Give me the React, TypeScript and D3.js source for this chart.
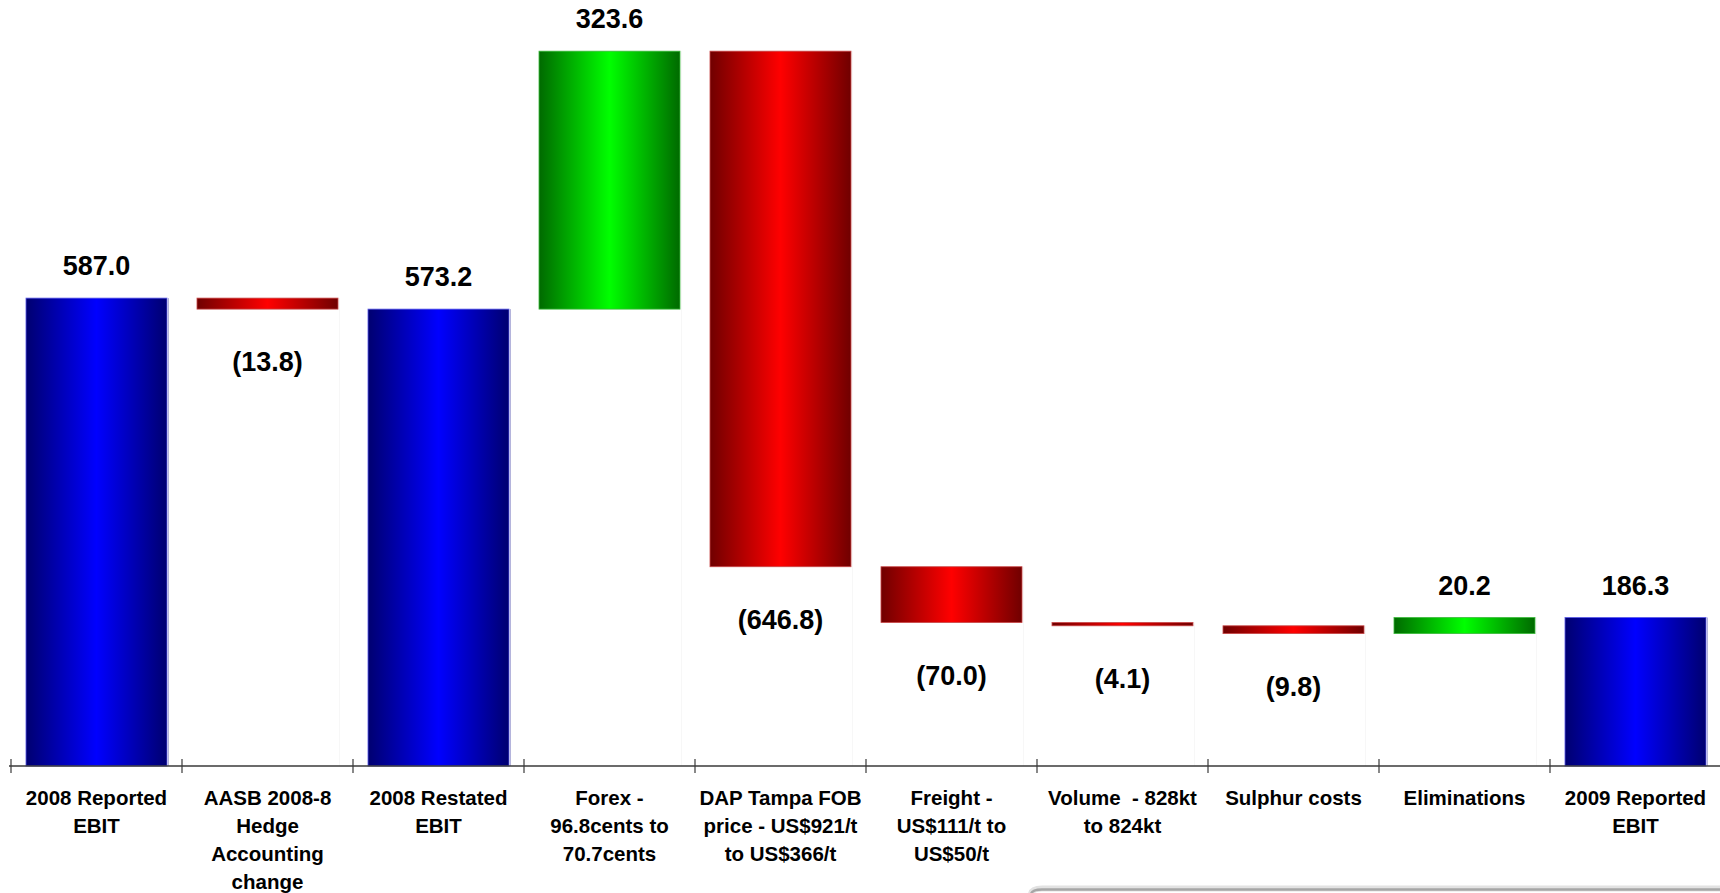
import React from "react";
import * as d3 from "d3";

// EBIT bridge 2008 -> 2009 (A$m)
const categories: string[][] = [
  ["2008 Reported", "EBIT"],
  ["AASB 2008-8", "Hedge", "Accounting", "change"],
  ["2008 Restated", "EBIT"],
  ["Forex -", "96.8cents to", "70.7cents"],
  ["DAP Tampa FOB", "price - US$921/t", "to US$366/t"],
  ["Freight -", "US$111/t to", "US$50/t"],
  ["Volume  - 828kt", "to 824kt"],
  ["Sulphur costs"],
  ["Eliminations"],
  ["2009 Reported", "EBIT"],
];

const values: number[] = [587.0, -13.8, 573.2, 323.6, -646.8, -70.0, -4.1, -9.8, 20.2, 186.3];
const kinds: string[] = ["total", "delta", "total", "delta", "delta", "delta", "delta", "delta", "delta", "total"];

const W = 1720;
const H = 893;

type Bar = { key: string; lines: string[]; value: number; kind: string; lo: number; hi: number };

function buildBars(): Bar[] {
  let running = 0;
  return values.map((v, i) => {
    let lo: number, hi: number;
    if (kinds[i] === "total") {
      lo = 0;
      hi = v;
      running = v;
    } else {
      const next = running + v;
      lo = Math.min(running, next);
      hi = Math.max(running, next);
      running = next;
    }
    return { key: String(i), lines: categories[i], value: v, kind: kinds[i], lo, hi };
  });
}

const fmt = (v: number) => (v < 0 ? `(${d3.format(".1f")(-v)})` : d3.format(".1f")(v));

export default function App() {
  const bars = buildBars();
  const keys = bars.map((b) => b.key);

  const axisLeft = 11;
  const axisRight = 1721;
  const band = d3.scaleBand<string>().domain(keys).range([axisLeft, axisRight]).padding(0);
  const x = d3
    .scaleBand<string>()
    .domain(keys)
    .range([axisLeft, axisRight])
    .paddingInner(0.1754)
    .paddingOuter(0.0877);
  const y = d3.scaleLinear().domain([0, 961]).range([766, 0]);
  const y0 = y(0);

  const boundaries = keys.map((k) => band(k) as number);

  const fillFor = (b: Bar) => {
    if (b.kind === "total") return "url(#gBlue)";
    return b.value < 0 ? "url(#gRed)" : "url(#gGreen)";
  };
  const strokeFor = (b: Bar) => {
    if (b.kind === "total") return "#5a5ae8";
    return b.value < 0 ? "#c84848" : "#3cba3c";
  };

  const font = "'Liberation Sans', Arial, Helvetica, sans-serif";

  return (
    <svg
      width={W}
      height={H}
      style={{ position: "absolute", left: 0, top: 0, display: "block", background: "#fff" }}
    >
      <defs>
        <linearGradient id="gBlue" x1="0" x2="1" y1="0" y2="0">
          <stop offset="0" stopColor="#000070" />
          <stop offset="0.5" stopColor="#0000ff" />
          <stop offset="1" stopColor="#000070" />
        </linearGradient>
        <linearGradient id="gRed" x1="0" x2="1" y1="0" y2="0">
          <stop offset="0" stopColor="#700000" />
          <stop offset="0.5" stopColor="#ff0000" />
          <stop offset="1" stopColor="#700000" />
        </linearGradient>
        <linearGradient id="gGreen" x1="0" x2="1" y1="0" y2="0">
          <stop offset="0" stopColor="#006a00" />
          <stop offset="0.5" stopColor="#00ff00" />
          <stop offset="1" stopColor="#006a00" />
        </linearGradient>
      </defs>

      {/* faint edge of each column down to the axis */}
      {bars.map((b) => {
        const right = (x(b.key) as number) + x.bandwidth();
        return (
          <line
            key={"edge" + b.key}
            x1={right + 1.5}
            x2={right + 1.5}
            y1={y(b.hi)}
            y2={y0}
            stroke={b.kind === "total" ? "#b4b4dc" : "#f7f7f7"}
            strokeWidth={1}
          />
        );
      })}

      {/* columns */}
      {bars.map((b) => {
        const bx = x(b.key) as number;
        const top = y(b.hi);
        const h = Math.max(y(b.lo) - top, 1.5);
        return (
          <rect
            key={"bar" + b.key}
            x={bx}
            y={top}
            width={x.bandwidth()}
            height={h}
            fill={fillFor(b)}
            stroke={strokeFor(b)}
            strokeWidth={0.8}
          />
        );
      })}

      {/* value labels */}
      {bars.map((b) => {
        const cx = (band(b.key) as number) + band.bandwidth() / 2;
        const ty = b.value < 0 ? y(b.lo) + 62 : y(b.hi) - 23;
        return (
          <text
            key={"val" + b.key}
            x={cx}
            y={ty}
            textAnchor="middle"
            fontFamily={font}
            fontWeight="bold"
            fontSize={27}
            fill="#000"
          >
            {fmt(b.value)}
          </text>
        );
      })}

      {/* category axis */}
      <line x1={9} x2={W} y1={y0} y2={y0} stroke="#3a3a3a" strokeWidth={1.3} />
      {boundaries.map((bx, i) => (
        <line key={"tick" + i} x1={bx} x2={bx} y1={y0 - 7} y2={y0 + 7} stroke="#3a3a3a" strokeWidth={1.2} />
      ))}

      {bars.map((b) => {
        const cx = (band(b.key) as number) + band.bandwidth() / 2;
        return (
          <text
            key={"cat" + b.key}
            textAnchor="middle"
            fontFamily={font}
            fontWeight="bold"
            fontSize={20.5}
            fill="#000"
            style={{ whiteSpace: "pre" }}
          >
            {b.lines.map((ln, j) => (
              <tspan key={j} x={cx} y={805 + j * 28}>
                {ln}
              </tspan>
            ))}
          </text>
        );
      })}

      {/* edge of the panel below the chart */}
      <path d="M1031,895 Q1031,888.5 1042,888.5 H1720" fill="none" stroke="#e2e2e2" strokeWidth={6} />
      <path d="M1031,895 Q1031,889.5 1042,889.5 H1720" fill="none" stroke="#a6a6a6" strokeWidth={2.5} />
    </svg>
  );
}
